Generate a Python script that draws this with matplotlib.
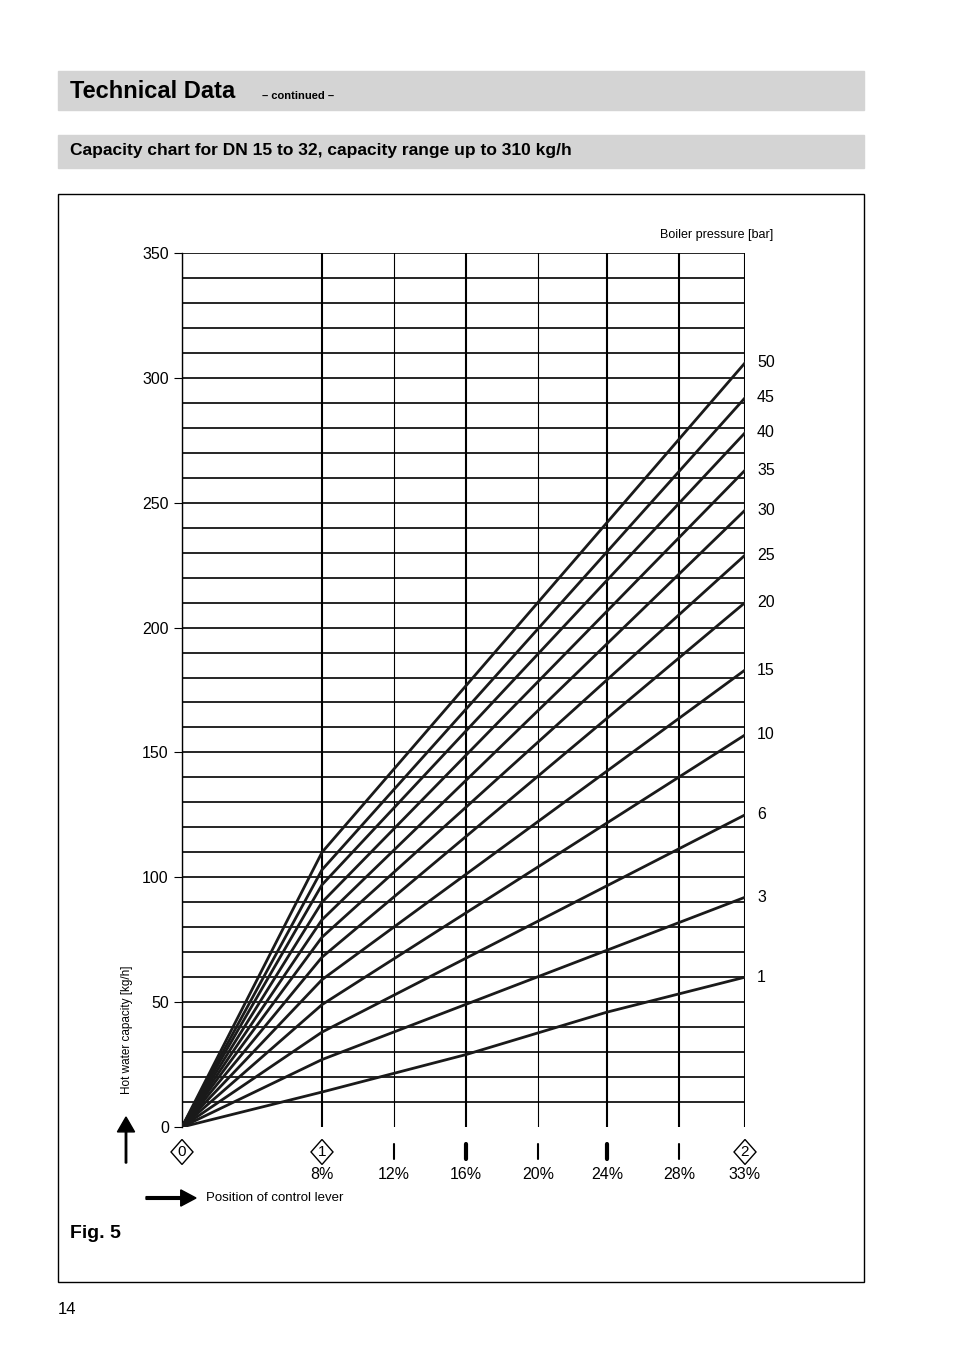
import matplotlib
matplotlib.use("Agg")
import matplotlib.pyplot as plt
from matplotlib.patches import Rectangle, Polygon
import numpy as np

plt.rcParams['font.family'] = ['Liberation Sans Narrow', 'Liberation Sans', 'DejaVu Sans']

# lever positions: label, plotted position (chart is not linear in percent)
lever_labels = ['', '8%', '12%', '16%', '20%', '24%', '28%', '33%']
lever_pos = [0, 140, 212, 284, 356, 425, 497, 563]
# capacity curves [kg/h] at 0, 8%, 33%
pressures = [50, 45, 40, 35, 30, 25, 20, 15, 10, 6, 3]
cap_8 = [110, 103, 97, 90, 83, 76, 68, 59, 49, 38, 27]
cap_33 = [306, 292, 278, 263, 247, 229, 210, 183, 157, 125, 92]
# 1 bar curve has extra points
p1_pos = [0, 140, 284, 425, 563]
p1_cap = [0, 14, 29, 46, 60]

W, H = 954, 1354
fig = plt.figure(figsize=(W/100, H/100), dpi=100)
def fx(x): return x / W
def fy(y): return 1 - y / H

# header boxes
fig.patches.append(Rectangle((fx(58), fy(110)), fx(864-58), (110-71)/H, transform=fig.transFigure, color='#d4d4d4', zorder=0))
fig.text(fx(70), fy(91), 'Technical Data', fontsize=17, fontweight='bold', va='center')
fig.text(fx(262), fy(96), '– continued –', fontsize=8, fontweight='bold', va='center')
fig.patches.append(Rectangle((fx(58), fy(168)), fx(864-58), (168-135)/H, transform=fig.transFigure, color='#d4d4d4', zorder=0))
fig.text(fx(70), fy(151), 'Capacity chart for DN 15 to 32, capacity range up to 310 kg/h', fontsize=12.5, fontweight='bold', va='center')
fig.patches.append(Rectangle((fx(58), fy(1282)), fx(864-58), (1282-194)/H, transform=fig.transFigure, fill=False, lw=1, ec='black'))
fig.text(fx(70), fy(1233), 'Fig. 5', fontsize=14, fontweight='bold', va='center')
fig.text(fx(58), fy(1310), '14', fontsize=12, va='center')

ax = fig.add_axes([fx(182), fy(1127), fx(563), (1127-253)/H])
ax.set_xlim(0, 563)
ax.set_ylim(0, 350)
for y in range(10, 351, 10):
    ax.axhline(y, color='black', lw=1.2, zorder=1)
thick = [True, True, False, True, False, True, True, True]
for p, t in zip(lever_pos, thick):
    ax.axvline(p, color='black', lw=1.5 if t else 0.8, zorder=1)
for sp in ['top', 'right', 'bottom']:
    ax.spines[sp].set_visible(False)
ax.spines['left'].set_linewidth(1)
ax.set_yticks(range(0, 351, 50))
ax.tick_params(axis='y', labelsize=11.5, length=6)
ax.set_xticks([])

for pr, c8, c33 in zip(pressures, cap_8, cap_33):
    ax.plot([0, 140, 563], [0, c8, c33], color='#1a1a1a', lw=2, zorder=3)
    ax.text(575, c33, str(pr), fontsize=11.5, va='center')
ax.plot(p1_pos, p1_cap, color='#1a1a1a', lw=2, zorder=3)
ax.text(575, 60, '1', fontsize=11.5, va='center')
ax.text(563 + 28, 355, 'Boiler pressure [bar]', fontsize=9, ha='right', va='bottom')

# lever marks below axis
yb = -10
for i, (p, lab) in enumerate(zip(lever_pos, lever_labels)):
    if i in (0, 1, 7):
        num = {0: '0', 1: '1', 7: '2'}[i]
        dx, dy = 11, 5
        ax.add_patch(Polygon([[p, yb + dy], [p + dx, yb], [p, yb - dy], [p - dx, yb]], closed=True,
                             fill=False, ec='black', lw=1, clip_on=False))
        ax.text(p, yb, num, ha='center', va='center', fontsize=11)
    else:
        ax.plot([p, p], [yb - 3, yb + 3], color='black', lw=3 if i in (3, 5) else 1.5, clip_on=False, solid_capstyle='round')
    if lab:
        ax.text(p, -19, lab, ha='center', va='center', fontsize=11.5)

# axis annotations
fig.text(fx(127), fy(1030), 'Hot water capacity [kg/h]', rotation=90, fontsize=8.5, ha='center', va='center')
fig.add_artist(matplotlib.patches.FancyArrow(fx(126), fy(1163), 0, (1163-1117)/H, width=0.0015, head_width=0.018,
               head_length=0.011, color='black', transform=fig.transFigure, length_includes_head=True))
fig.add_artist(matplotlib.patches.FancyArrow(fx(146), fy(1198), (196-146)/W, 0, width=0.002, head_width=0.012,
               head_length=0.016, color='black', transform=fig.transFigure, length_includes_head=True))
fig.text(fx(206), fy(1198), 'Position of control lever', fontsize=9.5, va='center')

fig.savefig('out.png', dpi=100)
